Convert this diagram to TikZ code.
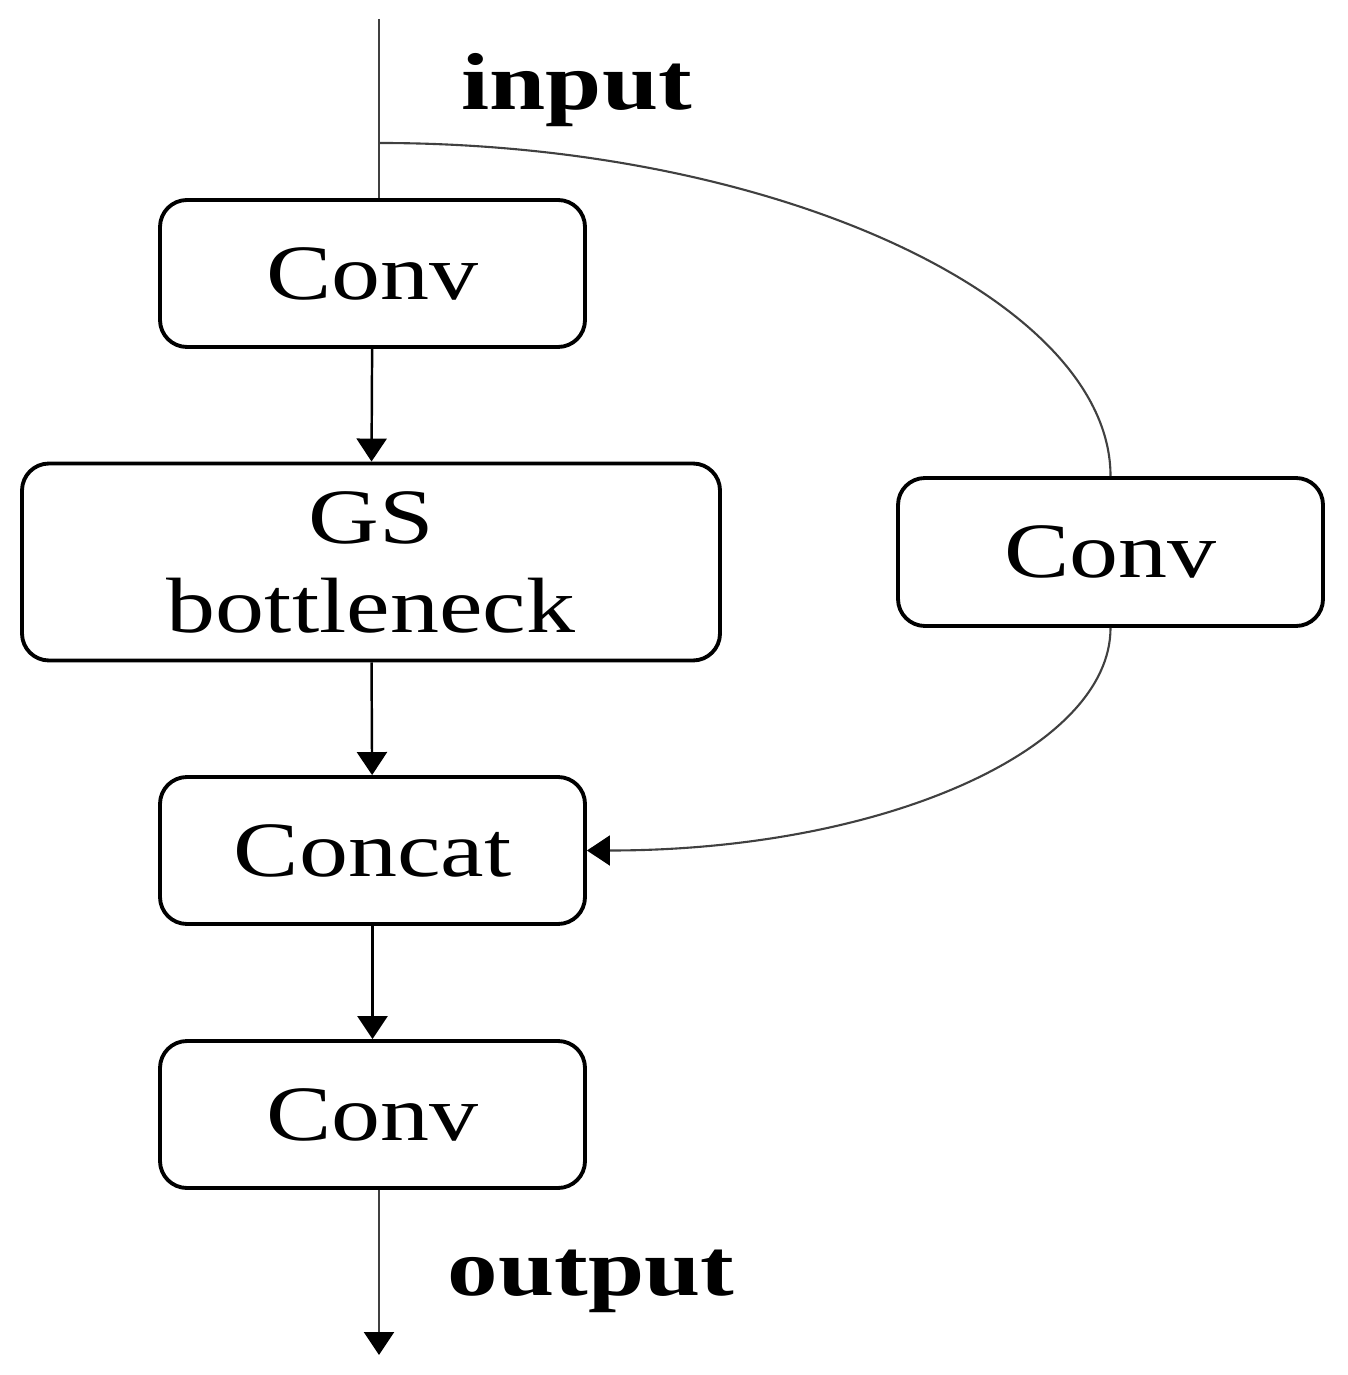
\documentclass[tikz,border=0pt]{standalone}
\usepackage{fontspec}
\setmainfont{Liberation Serif}[FakeStretch=1.25]
\usetikzlibrary{arrows.meta, shapes, positioning}

\begin{document}
\begin{tikzpicture}[scale=1]
 \tikzstyle{block}=[draw, line width=1.1pt, rounded corners=0.27cm, align=center,
   minimum width=4.25cm, minimum height=1.47cm, inner sep=0pt,
   font=\fontsize{22.3}{25.3}\selectfont]
 \tikzstyle{lbl}=[anchor=base west, inner sep=0pt, font=\fontsize{23}{26}\selectfont\bfseries]
 \tikzstyle{line} = [draw, line width=0.7pt, -{Triangle[length=2.3mm, width=3mm, color=black]}]
 \tikzstyle{thin} = [draw, line width=0.6pt, black!75]

 \useasboundingbox (0,0) rectangle (13.47,-13.75);

 % main column
 \node[block] (conv1) at (3.725, -2.735) {Conv};
 \node[block, minimum width=6.98cm, minimum height=1.97cm] (gs) at (3.71, -5.62) {GS\\bottleneck};
 \node[block] (concat) at (3.725, -8.505) {Concat};
 \node[block] (conv2) at (3.725, -11.145) {Conv};

 % side branch
 \node[block, minimum height=1.48cm] (rconv) at (11.105, -5.52) {Conv};

 \coordinate (intop) at (3.79, -0.19);
 \coordinate (split) at (3.79, -1.43);
 \coordinate (outbot) at (3.79, -13.55);

 \node[lbl] (inlbl) at (4.61, -1.10) {input};
 \node[lbl] (outlbl) at (4.47, -12.95) {output};

 \path [thin] (intop) -- (intop |- conv1.north);
 \path [line] (conv1) -- (gs);
 \path [line] (gs) -- (concat);
 \path [line] (concat) -- (conv2);
 \path [line, black!75] (outbot |- conv2.south) -- (outbot);

 \path [thin] (split) .. controls +(4.0,0) and +(0,1.75) .. (rconv.north);
 \path [line, line width=0.6pt, black!75] (rconv.south) .. controls +(0,-1.2) and +(3.0,0) .. (concat.east);
\end{tikzpicture}
\end{document}
